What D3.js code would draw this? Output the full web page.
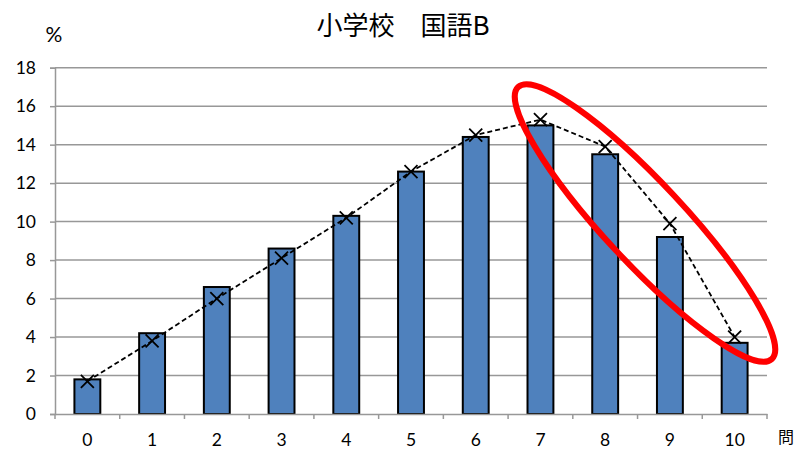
<!DOCTYPE html>
<html><head><meta charset="utf-8">
<script src="https://cdn.jsdelivr.net/npm/d3@7"></script>
<style>body{margin:0;background:#fff}svg{display:block}</style>
</head><body>
<script>
const categories = ["0","1","2","3","4","5","6","7","8","9","10"];
const barValues = [1.8, 4.2, 6.6, 8.6, 10.3, 12.6, 14.4, 15.0, 13.5, 9.2, 3.7];
const lineValues = [1.7, 3.8, 6.0, 8.1, 10.2, 12.6, 14.5, 15.3, 13.9, 9.9, 4.0];
const yTicks = [0, 2, 4, 6, 8, 10, 12, 14, 16, 18];
const title = "小学校　国語B";
const yUnit = "%";
const xUnit = "問";

const W = 798, H = 449;
const m = {left: 55, right: 31, top: 67.7, bottom: 35};
const svg = d3.select("body").append("svg").attr("width", W).attr("height", H);
const x = d3.scaleBand().domain(categories).range([m.left, W - m.right]).paddingInner(0.6).paddingOuter(0.3);
const xTickScale = d3.scaleBand().domain(categories).range([m.left, W - m.right]);
const y = d3.scaleLinear().domain([0, 18]).range([H - m.bottom, m.top]);
const font = "Lato, 'Open Sans', sans-serif";

// gridlines
svg.append("g").selectAll("line").data(yTicks.filter(d => d > 0)).join("line")
  .attr("x1", m.left).attr("x2", W - m.right)
  .attr("y1", d => y(d)).attr("y2", d => y(d))
  .attr("stroke", "#989898").attr("stroke-width", 1.5);

// y axis
const yAxis = svg.append("g").attr("transform", `translate(${m.left},0)`)
  .call(d3.axisLeft(y).tickValues(yTicks).tickSize(5).tickPadding(14));
yAxis.select(".domain").attr("stroke", "#989898").attr("stroke-width", 1.5);
yAxis.selectAll(".tick line").attr("stroke", "#989898").attr("stroke-width", 1.5);
yAxis.selectAll("text").attr("font-family", font).attr("font-size", 17.5).attr("fill", "#000");

// bars
svg.append("g").selectAll("rect").data(categories).join("rect")
  .attr("x", d => x(d)).attr("width", x.bandwidth())
  .attr("y", (d, i) => y(barValues[i])).attr("height", (d, i) => y(0) - y(barValues[i]))
  .attr("fill", "#4F81BD").attr("stroke", "#000").attr("stroke-width", 2);

// x axis
const xAxis = svg.append("g").attr("transform", `translate(0,${y(0)})`)
  .call(d3.axisBottom(xTickScale).tickSize(0).tickPadding(20));
xAxis.select(".domain").attr("stroke", "#989898").attr("stroke-width", 1.5);
xAxis.selectAll("text").attr("font-family", font).attr("font-size", 17.5).attr("fill", "#000");
const edges = categories.map(c => xTickScale(c)).concat([W - m.right]);
svg.append("g").selectAll("line").data(edges).join("line")
  .attr("x1", d => d).attr("x2", d => d).attr("y1", y(0)).attr("y2", y(0) + 5)
  .attr("stroke", "#989898").attr("stroke-width", 1.5);

// line
const cx = d => x(d) + x.bandwidth() / 2;
svg.append("path").datum(categories)
  .attr("d", d3.line().x(d => cx(d)).y((d, i) => y(lineValues[i])))
  .attr("fill", "none").attr("stroke", "#000").attr("stroke-width", 1.8).attr("stroke-dasharray", "5,3");
const s = 6.5;
svg.append("g").selectAll("path").data(categories).join("path")
  .attr("d", (d, i) => {
    const px = cx(d), py = y(lineValues[i]);
    return `M${px - s},${py - s}L${px + s},${py + s}M${px - s},${py + s}L${px + s},${py - s}`;
  })
  .attr("stroke", "#000").attr("stroke-width", 1.8).attr("fill", "none");

// red ellipse annotation
svg.append("ellipse").attr("cx", 645).attr("cy", 223).attr("rx", 186).attr("ry", 40)
  .attr("transform", "rotate(47,645,223)")
  .attr("fill", "none").attr("stroke", "#FF0000").attr("stroke-width", 6);

// texts
svg.append("text").attr("x", 403).attr("y", 35).attr("text-anchor", "middle")
  .attr("font-family", "'Noto Sans CJK JP', sans-serif").attr("font-size", 26).attr("fill", "#000").text(title);
svg.append("text").attr("x", 54).attr("y", 42).attr("text-anchor", "middle")
  .attr("font-family", font).attr("font-size", 21).attr("fill", "#000").text(yUnit);
svg.append("text").attr("x", 786).attr("y", 443).attr("text-anchor", "middle")
  .attr("font-family", "'Noto Sans CJK JP', sans-serif").attr("font-size", 16).attr("fill", "#000").text(xUnit);
</script>
</body></html>
